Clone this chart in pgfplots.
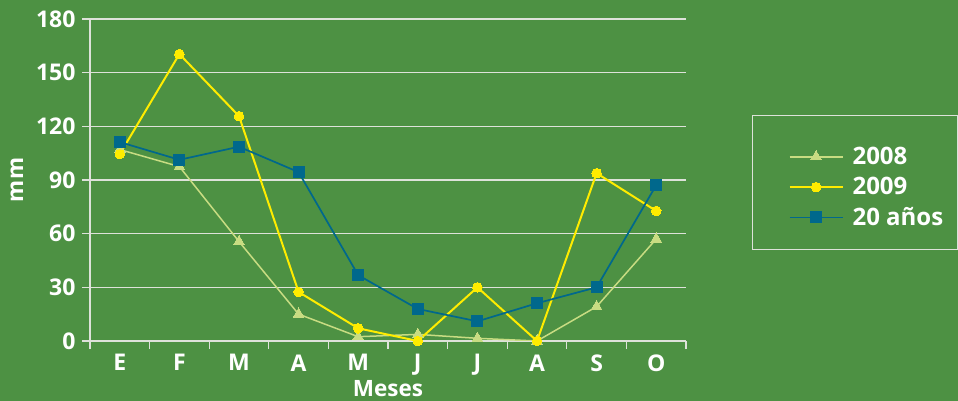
\documentclass[border=0pt]{standalone}
\usepackage{pgfplots}
\pgfplotsset{compat=1.18}
\usepackage{fontspec}
\setmainfont{Open Sans}
\definecolor{bg}{RGB}{77,145,67}
\definecolor{c08}{RGB}{200,220,130}
\definecolor{c09}{RGB}{255,236,0}
\definecolor{c20}{RGB}{0,104,140}
\definecolor{gridc}{RGB}{222,226,218}
\begin{document}
\begin{tikzpicture}
\fill[bg] (0pt,0pt) rectangle (958pt,401pt);
\begin{axis}[
  at={(90pt,60pt)}, anchor=south west,
  scale only axis, width=596pt, height=322pt,
  xmin=0, xmax=10, ymin=0, ymax=180,
  axis x line*=bottom, axis y line*=left,
  axis line style={gridc, line width=1.3pt, -},
  xtick={0,...,10},
  xticklabels={E,F,M,A,M,J,J,A,S,O},
  x tick label as interval,
  ytick={0,30,...,180},
  ymajorgrids,
  grid style={gridc, line width=1.3pt},
  tick align=outside, major tick length=8pt,
  tick style={gridc, line width=1.3pt},
  /pgf/number format/assume math mode=true,
  ticklabel style={font=\bfseries\fontsize{23}{26}\selectfont, text=white},
  xticklabel style={yshift=-2pt},
  yticklabel style={xshift=-3pt},
  xlabel={Meses}, ylabel={mm},
  label style={font=\bfseries\fontsize{22.5}{26}\selectfont, text=white},
  xlabel style={at={(axis description cs:0.5,-0.148)}, anchor=center},
  ylabel style={at={(axis description cs:-0.1225,0.5)}, anchor=center, rotate=0},
  legend cell align=left,
  legend style={at={(axis description cs:1.1107,0.702)}, anchor=north west,
    draw=gridc, line width=1.2pt, fill=none, text=white,
    font=\bfseries\fontsize{24}{28}\selectfont,
    nodes={text height=26pt},
    inner xsep=12pt, inner ysep=21pt, row sep=-1.2pt,
    /tikz/every odd column/.append style={column sep=7pt}},
  legend image code/.code={\path (0pt,-12pt) (0pt,12pt);
    \draw[mark repeat=2,mark phase=2,#1] plot coordinates {(24pt,-4.5pt) (50.5pt,-4.5pt) (77pt,-4.5pt)};},
]
\addplot[c08, line width=1.5pt, mark=triangle*, mark size=6.2pt, mark options={fill=c08, draw=c08, line width=0pt}]
  coordinates {(0.5,107) (1.5,97.5) (2.5,55.6) (3.5,15) (4.5,2.4) (5.5,3.7) (6.5,1.5) (7.5,0) (8.5,19.2) (9.5,57)};
\addlegendentry{2008}
\addplot[c09, line width=2pt, mark=*, mark size=4.8pt, mark options={fill=c09, draw=c09, line width=0pt}]
  coordinates {(0.5,104.5) (1.5,160.4) (2.5,125.7) (3.5,27.4) (4.5,7.1) (5.5,0) (6.5,30) (7.5,0) (8.5,93.8) (9.5,72.7)};
\addlegendentry{2009}
\addplot[c20, line width=1.7pt, mark=square*, mark size=5.5pt, mark options={fill=c20, draw=c20, line width=0pt}]
  coordinates {(0.5,111.2) (1.5,101.3) (2.5,108.6) (3.5,94.4) (4.5,36.8) (5.5,17.9) (6.5,11) (7.5,21.1) (8.5,30) (9.5,87.1)};
\addlegendentry{20 años}
\end{axis}
\pgfresetboundingbox
\path (0pt,0pt) rectangle (958pt,401pt);
\end{tikzpicture}
\end{document}
